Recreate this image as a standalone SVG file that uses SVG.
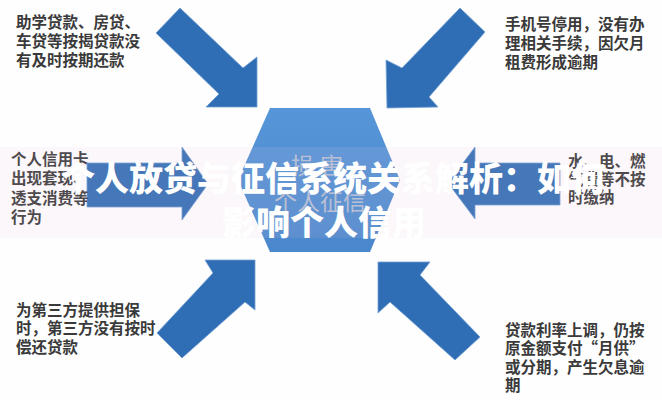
<svg xmlns="http://www.w3.org/2000/svg" width="662" height="400" viewBox="0 0 662 400">
<defs>
<linearGradient id="hexg" x1="0" y1="0" x2="0" y2="1">
<stop offset="0" stop-color="#5696d8"/>
<stop offset="1" stop-color="#4a87cc"/>
</linearGradient>
<style>
.arrow{fill:#2f6db4;stroke:#6f9ed3;stroke-width:0.8;stroke-linejoin:miter}
.note{font-family:"Noto Sans CJK SC","Noto Sans CJK TC",sans-serif;font-size:15.5px;font-weight:700;fill:#3a3a3a}
.hex{fill:url(#hexg)}
.hext{font-family:"Noto Sans CJK SC",sans-serif;font-size:23px;fill:#b3bfd3;text-anchor:middle}
.title{font-family:"Noto Sans CJK SC",sans-serif;font-size:34px;font-weight:900;fill:#ffffff}
</style>
</defs>
<rect width="662" height="400" fill="#fefefe"/>
<g id="connectors">
<polygon class="arrow" points="180,8 243,68 257,57 257,107 206,107 219,94 156,33"/>
<polygon class="arrow" points="460,8 485,32 429,97 438,107 387,108 386,60 402,68"/>
<polygon class="arrow" points="205,260 255,260 255,310 245,302 182,358 157,333 213,273"/>
<polygon class="arrow" points="378,262 430,262 420,275 480,337 455,360 390,302 378,313"/>
<polygon class="arrow" points="87,163 182,163 182,147 208,184 182,220 182,207 87,207"/>
<polygon class="arrow" points="448,183 475,147 475,163 560,163 560,205 475,205 475,219"/>
</g>
<g id="center">
<polygon class="hex" points="270,108 370,108 400,180 370,252 270,252 238,180"/>
<text class="hext" x="320" y="174" letter-spacing="6">损害</text>
<text class="hext" x="320" y="210">个人征信</text>
</g>
<g id="note-top-left">
<text class="note" x="16" y="28">助学贷款、房贷、</text>
<text class="note" x="16" y="47">车贷等按揭贷款没</text>
<text class="note" x="16" y="66">有及时按期还款</text>
</g>
<g id="note-top-right">
<text class="note" x="505" y="30">手机号停用，没有办</text>
<text class="note" x="505" y="49">理相关手续，因欠月</text>
<text class="note" x="505" y="68">租费形成逾期</text>
</g>
<g id="note-left">
<text class="note" x="11" y="165">个人信用卡</text>
<text class="note" x="11" y="184">出现套现、</text>
<text class="note" x="11" y="204">透支消费等</text>
<text class="note" x="11" y="223">行为</text>
</g>
<g id="note-right">
<text class="note" x="568" y="167">水、电、燃</text>
<text class="note" x="568" y="185">气费等不按</text>
<text class="note" x="568" y="203">时缴纳</text>
</g>
<g id="note-bottom-left">
<text class="note" x="16" y="316">为第三方提供担保</text>
<text class="note" x="16" y="334">时，第三方没有按时</text>
<text class="note" x="16" y="353">偿还贷款</text>
</g>
<g id="note-bottom-right">
<text class="note" x="505" y="336">贷款利率上调，仍按</text>
<text class="note" x="505" y="354">原金额支付“月供”</text>
<text class="note" x="505" y="373">或分期，产生欠息逾</text>
<text class="note" x="505" y="391">期</text>
</g>
<rect x="0" y="147" width="662" height="91" fill="#e3c6dc" opacity="0.12"/>
<g id="title">
<text class="title" x="61" y="191">个人放贷与征信系统关系解析：如何</text>
<text class="title" x="222" y="235">影响个人信用</text>
</g>
</svg>
